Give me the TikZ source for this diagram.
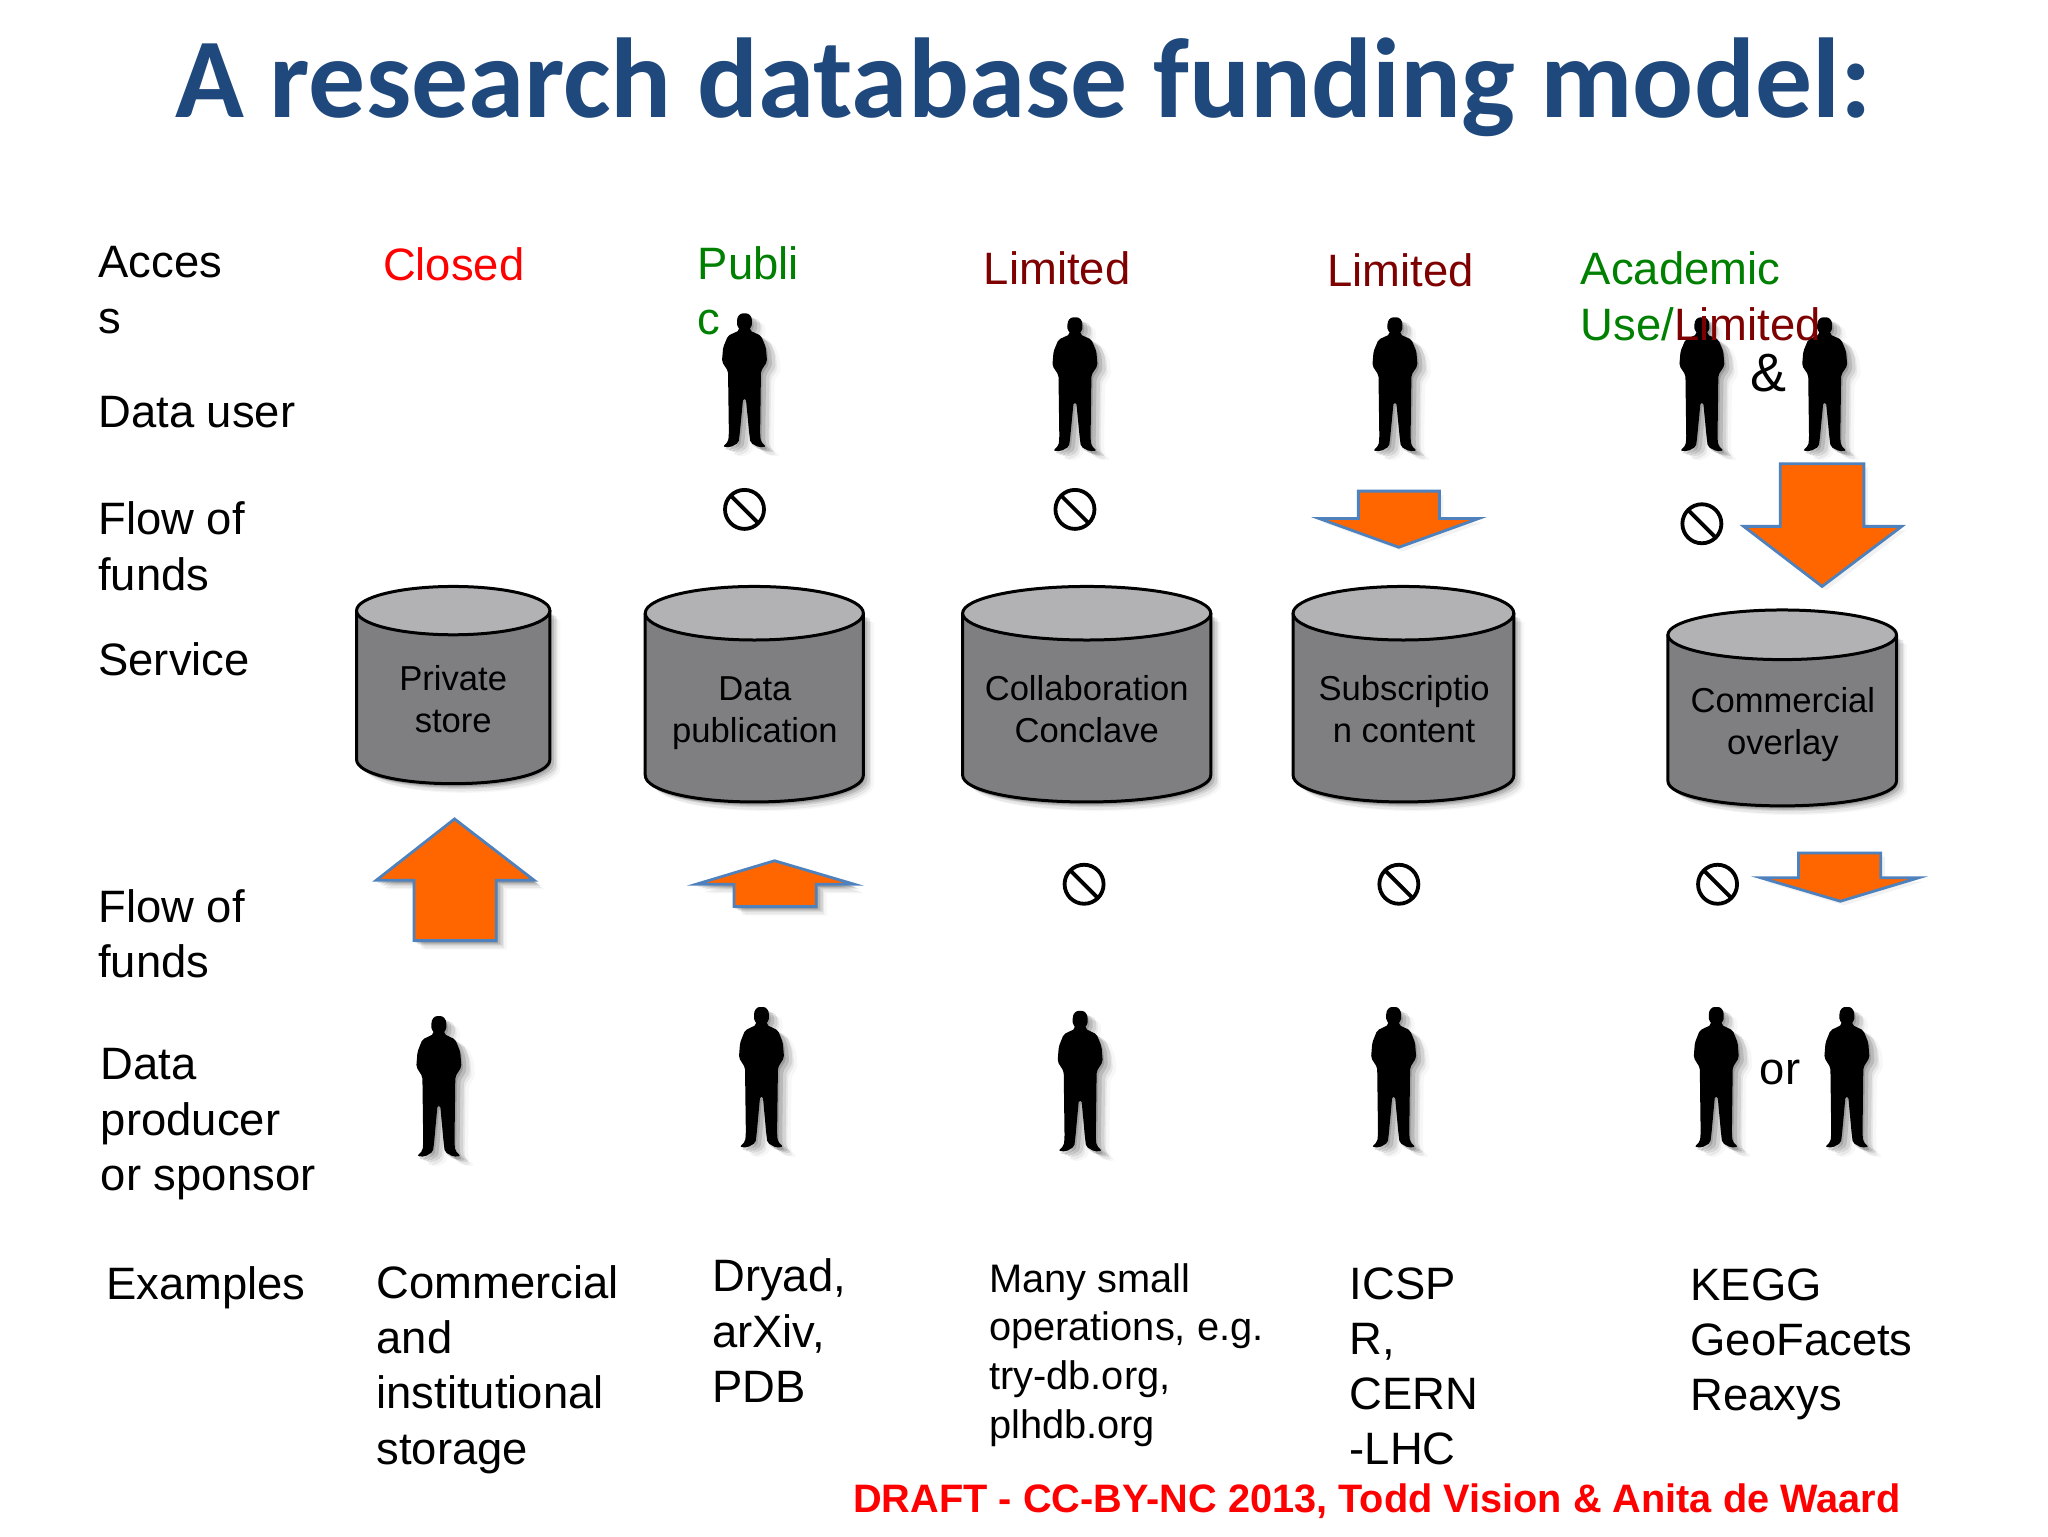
\documentclass[tikz,border=0pt]{standalone}
\usepackage{fontspec}
\setmainfont{Liberation Sans}
\newfontfamily\titlefont{Carlito}
\definecolor{titleblue}{HTML}{1F497D}
\definecolor{okgreen}{HTML}{008000}
\definecolor{limred}{HTML}{7F0000}
\definecolor{arroworange}{HTML}{FF6600}
\definecolor{arrowblue}{HTML}{4F81BD}
\definecolor{canbody}{HTML}{7F7F82}
\definecolor{cantop}{HTML}{B2B1B4}
\newcommand\softshadow[1]{%
  \foreach \sx/\sy/\so in {1/2/.14,3/3/.12,5/4/.09,6/6/.06,8/7/.03}{%
    \fill[black,opacity=\so,xshift=\sx*0.653pt,yshift=-\sy*0.653pt] #1;}%
}
\newcommand\personpath{(-4.4,7) .. controls (-4.4,2) and (-2.5,0) .. (0,0) .. controls (2.5,0) and (4.4,2) .. (4.4,7)
  .. controls (4.4,10) and (3.2,11) .. (3,13) -- (9.7,17) -- (12.6,26) -- (13.3,37) -- (9.7,44) -- (9.2,92) -- (9.6,98) -- (12.8,102) -- (8.5,102.5) -- (3.5,99) -- (2.8,92) -- (0.8,65)
  -- (-0.8,65) -- (-2.8,92) -- (-3.5,99) -- (-8.5,102.5) -- (-12.8,102) -- (-9.6,98) -- (-9.2,92) -- (-9.7,44) -- (-13.3,37) -- (-12.6,26) -- (-9.7,17) -- (-3,13)
  .. controls (-3.2,11) and (-4.4,10) .. (-4.4,7) -- cycle}
\newcommand\personat[4]{% name, x, top, yscale
  \begin{scope}[shift={(#2,#3)},yscale=#4,xscale=1.3,rounded corners=1pt]
    \softshadow{\personpath}
    \fill[black] \personpath;
    \coordinate (#1) at (0,50);
  \end{scope}}
\newcommand\canat[8]{% name,x1,x2,top,bot,ry,textx,texty
  \pgfmathsetmacro\cx{(#2+#3)/2}\pgfmathsetmacro\rx{(#3-#2)/2}
  \pgfmathsetmacro\ya{#4+#6}\pgfmathsetmacro\yb{#5-#6}\pgfmathsetmacro\yc{#5-0.42*#6}
  \pgfmathsetmacro\xa{\cx-0.56*\rx}\pgfmathsetmacro\xb{\cx+0.56*\rx}
  \softshadow{(#2,\ya) -- (#2,\yb) .. controls (#2,\yc) and (\xa,#5) .. (\cx,#5) .. controls (\xb,#5) and (#3,\yc) .. (#3,\yb) -- (#3,\ya) -- cycle}
  \draw[canedge,fill=canbody] (#2,\ya) -- (#2,\yb) .. controls (#2,\yc) and (\xa,#5) .. (\cx,#5) .. controls (\xb,#5) and (#3,\yc) .. (#3,\yb) -- (#3,\ya) -- cycle;
  \draw[canedge,fill=cantop] (\cx,\ya) ellipse [x radius=\rx, y radius=#6];
  \node[cantext] (#1) at (#7,#8) {\canlabel};}
\newcommand\barat[3]{\node[nosign] (#1) at (#2,#3) {};
  \draw[line width=1.9pt] (#1.north west) ++(1.5,1.5) -- ($(#1.south east)+(-1.5,-1.5)$);}
\newcommand\upflow[8]{% name tipx tipy baseY headL headR shaftL shaftR ; far end via \flowend
  \softshadow{(#2,#3) -- (#6,#4) -- (#8,#4) -- (#8,\flowend) -- (#7,\flowend) -- (#7,#4) -- (#5,#4) -- cycle}
  \draw[flowarrow] (#2,#3) -- (#6,#4) -- (#8,#4) -- (#8,\flowend) -- (#7,\flowend) -- (#7,#4) -- (#5,#4) -- cycle;
  \coordinate (#1) at (#2,#4);}
\newcommand\downflow[8]{% same as \upflow, with a fainter shadow
  \fill[black,opacity=.05,xshift=2pt,yshift=-2pt] (#2,#3) -- (#6,#4) -- (#8,#4) -- (#8,\flowend) -- (#7,\flowend) -- (#7,#4) -- (#5,#4) -- cycle;
  \draw[flowarrow] (#2,#3) -- (#6,#4) -- (#8,#4) -- (#8,\flowend) -- (#7,\flowend) -- (#7,#4) -- (#5,#4) -- cycle;
  \coordinate (#1) at (#2,#4);}
\usetikzlibrary{calc}
\tikzset{
  x=0.65306pt,y=-0.65306pt,
  canedge/.style={draw=black,line width=1.5pt,line join=round},
  cantext/.style={inner sep=0pt,align=center,font=\fontsize{17.3}{21}\selectfont},
  nosign/.style={draw=black,line width=1.9pt,circle,minimum size=19.5pt,inner sep=0pt},
  flowarrow/.style={draw=arrowblue,fill=arroworange,line width=1.4pt,line join=miter},
  bodytext/.style={anchor=north west,inner sep=0pt,align=left,execute at begin node=\strut,font=\fontsize{22.7}{27.6}\selectfont},
  smalltext/.style={anchor=north west,inner sep=0pt,align=left,execute at begin node=\strut,font=\fontsize{19.9}{24.3}\selectfont},
}
\newcommand\canlabel{}
\begin{document}
\begin{tikzpicture}
\useasboundingbox (0,0) rectangle (1568,1176);
\fill[white] (0,0) rectangle (1568,1176);
\node[anchor=base,inner sep=0pt,text=titleblue,font=\titlefont\bfseries\fontsize{56.8}{60}\selectfont] (title) at (783.5,90) {A research database funding model:};

% row labels
\node[bodytext] (access) at (75,188.6) {Acces\\s};
\node[bodytext] (datauser) at (75,297.6) {Data user};
\node[bodytext] (flowa) at (75,384) {Flow of\\funds};
\node[bodytext] (service) at (75,487.6) {Service};
\node[bodytext] (flowb) at (75,680.6) {Flow of\\funds};
\node[bodytext] (producer) at (77,802.6) {Data\\producer\\or sponsor};
\node[bodytext] (examples) at (81,965) {Examples};

% access
\node[bodytext,text=red] (closed) at (293,184.6) {Closed};
\node[bodytext,text=okgreen] (public) at (534,188.6) {Publi\\c};
\node[bodytext,text=limred] (lima) at (753,187.6) {Limited};
\node[bodytext,text=limred] (limb) at (1016,189.6) {Limited};

% users
\personat{ua}{570}{240}{1}
\personat{ub}{823}{243}{1}
\personat{uc}{1068}{243}{1}
\personat{ud}{1303}{243}{1}
\personat{ue}{1397}{243}{1}
\node[bodytext,text=okgreen] (acad) at (1210,192.6) {Academic\\Use/\textcolor{limred}{Limited}};
\node[bodytext,font=\fontsize{27}{27.6}\selectfont] (amp) at (1340,269.6) {\&};

% no-funds signs
\barat{na}{570}{390}
\barat{nb}{823}{390}
\barat{nc}{1303}{401}
\barat{nd}{830}{677}
\barat{ne}{1071}{677}
\barat{nf}{1315}{677}

% upper flows
\def\flowend{376}\downflow{fa}{1071}{419}{397}{1010}{1132}{1040}{1102}
\def\flowend{355}\downflow{fb}{1395}{449}{403}{1335}{1456}{1363}{1427}

% cans
\renewcommand\canlabel{Private\\store}\canat{cana}{273}{421}{449}{600}{18.5}{347}{535}
\renewcommand\canlabel{Data\\publication}\canat{canb}{494}{661}{449}{614}{20.5}{578}{546}
\renewcommand\canlabel{Collaboration\\Conclave}\canat{canc}{737}{927}{449}{614}{20.5}{832}{543}
\renewcommand\canlabel{Subscriptio\\n content}\canat{cand}{990}{1159}{449}{614}{20.5}{1075}{543}
\renewcommand\canlabel{Commercial\\overlay}\canat{cane}{1277}{1452}{467}{617}{19}{1365}{555}

% lower flows
\def\flowend{720}\upflow{fc}{348}{627}{674}{288}{409}{317}{380}
\def\flowend{694}\upflow{fd}{593}{659}{677}{533}{654}{562}{625}
\def\flowend{653}\downflow{fe}{1409}{690}{672}{1348}{1469}{1377}{1440}

% producers
\personat{pa}{336}{778}{1.05}
\personat{pb}{583}{771}{1.05}
\personat{pc}{827}{774}{1.05}
\personat{pd}{1067}{771}{1.05}
\personat{pe}{1314}{771}{1.05}
\personat{pf}{1414}{771}{1.05}
\node[bodytext] (orword) at (1347,800.6) {or};

% examples
\node[bodytext] (exa) at (288,968.6) {Commercial\\and\\institutional\\storage};
\node[bodytext] (exb) at (545,963.6) {Dryad,\\arXiv,\\PDB};
\node[smalltext] (exc) at (757,967) {Many small\\operations, e.g.\\try-db.org,\\plhdb.org};
\node[bodytext] (exd) at (1033,970) {ICSP\\R,\\CERN\\-LHC};
\node[bodytext] (exe) at (1294,971) {KEGG\\GeoFacets\\Reaxys};

\node[anchor=base west,inner sep=0pt,text=red,font=\bfseries\fontsize{19.85}{22}\selectfont] (draft) at (653,1158) {DRAFT - CC-BY-NC 2013, Todd Vision \& Anita de Waard};
\end{tikzpicture}
\end{document}
